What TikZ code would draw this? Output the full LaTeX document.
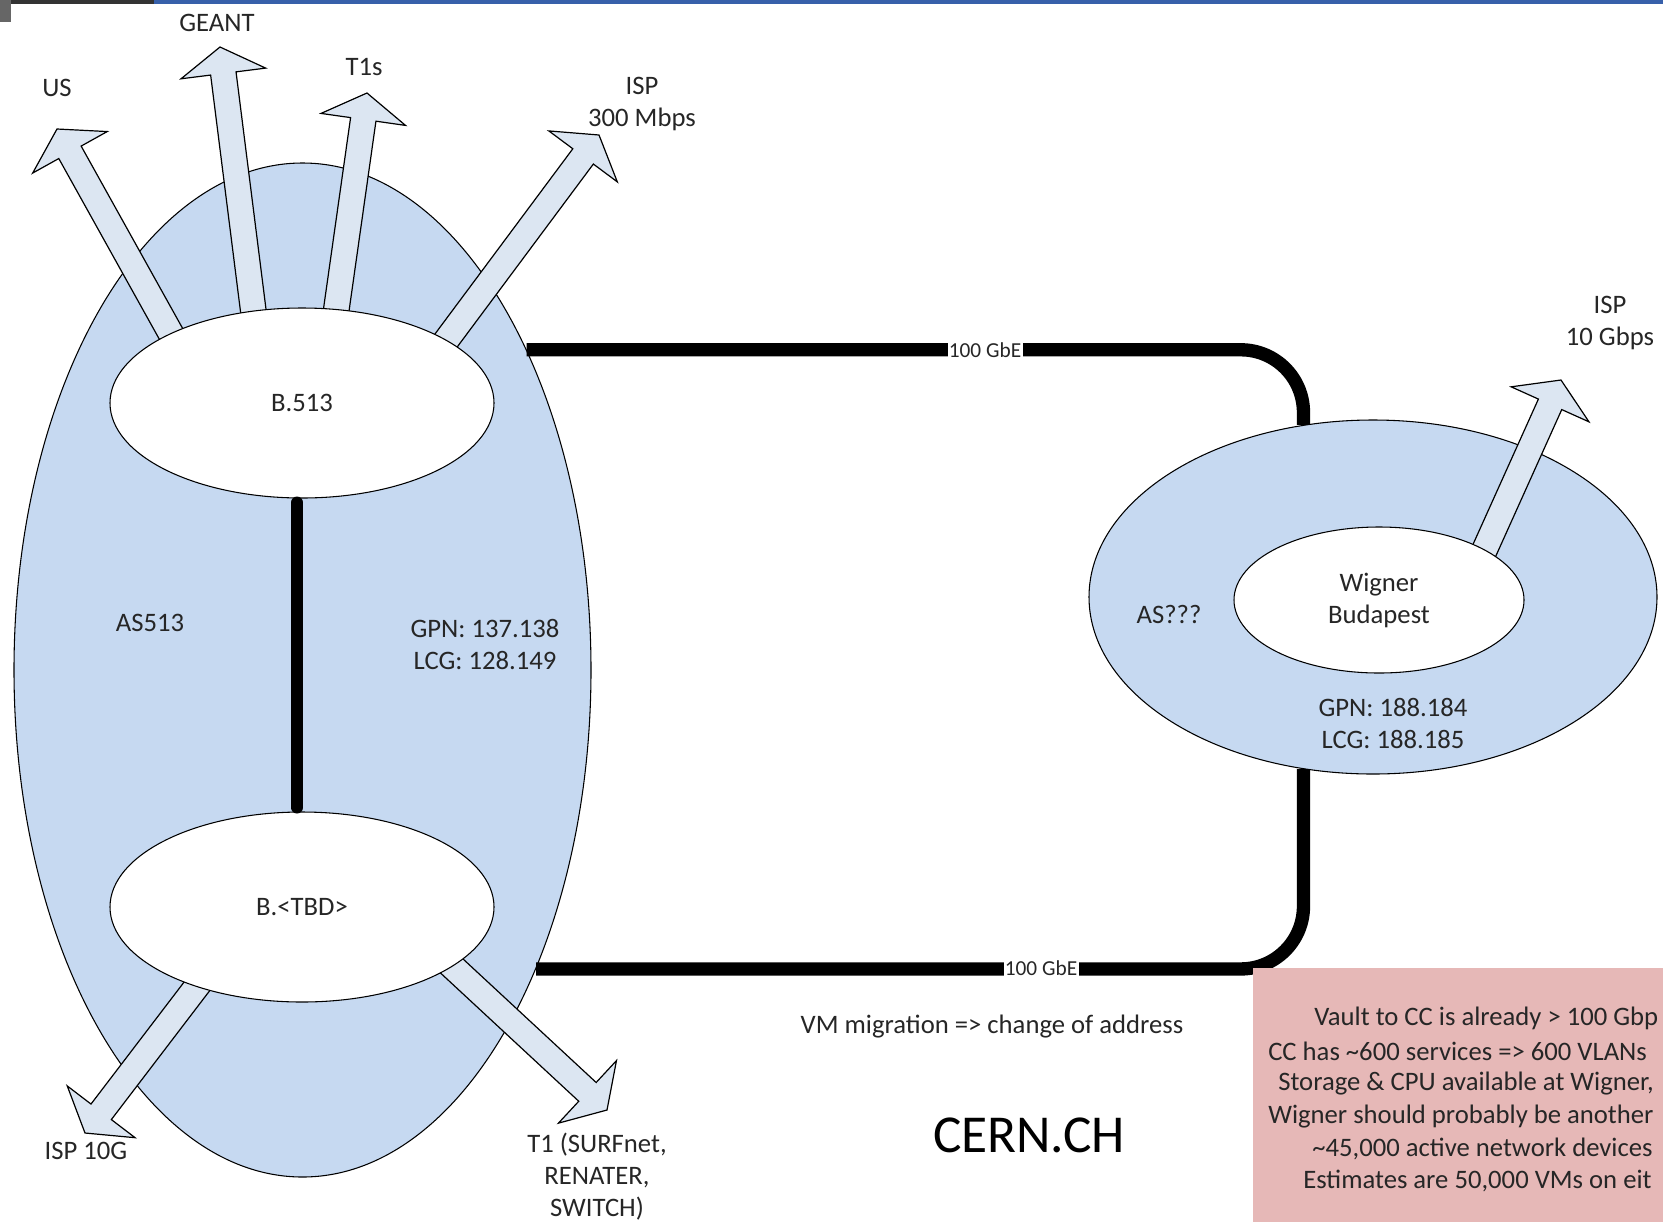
\documentclass[tikz,border=0pt]{standalone}
\usepackage{fontspec}
\setmainfont{Carlito}
\usetikzlibrary{calc,shapes.geometric}

\definecolor{asblue}{RGB}{198,217,241}
\definecolor{arrowfill}{RGB}{220,230,242}
\definecolor{notepink}{RGB}{230,184,183}
\definecolor{labelgray}{RGB}{38,38,38}
\definecolor{slideblue}{RGB}{55,96,170}

\tikzset{
  asregion/.style={ellipse, draw, line width=0.8pt, fill=asblue, inner sep=0pt},
  site/.style={ellipse, draw, line width=0.8pt, fill=white, inner sep=0pt, text=labelgray, align=center, font=\fontsize{20}{24}\selectfont},
  lbl/.style={text=labelgray, inner sep=0pt, align=center, font=\fontsize{20}{24}\selectfont},
  notetext/.style={lbl, anchor=west},
  fatarrowstyle/.style={draw, line width=0.9pt, fill=arrowfill, line join=miter},
  gbelink/.style={line width=10pt, rounded corners=47pt},
  gbelabel/.style={fill=white, inner sep=1pt, text=labelgray, font=\fontsize{16}{18}\selectfont},
}

% block arrow from #1 (base) to #2 (tip)
\newcommand{\fatarrow}[2]{%
  \coordinate (fahead) at ($(#2)!20pt!(#1)$);
  \draw[fatarrowstyle] ($(#1)!9.6pt!90:(#2)$) -- ($(fahead)!9.6pt!90:(#2)$) -- ($(fahead)!32pt!90:(#2)$) -- (#2) -- ($(fahead)!32pt!-90:(#2)$) -- ($(fahead)!9.6pt!-90:(#2)$) -- ($(#1)!9.6pt!-90:(#2)$) -- cycle;}

\begin{document}
\begin{tikzpicture}[x=0.75pt,y=0.75pt,yscale=-1,xscale=1]
        \useasboundingbox (0,0) rectangle (1663,1222);
        % slide frame
        \fill[slideblue] (154,0) rectangle (1663,4);
        \fill[black!80] (0,0) rectangle (154,4);
        \fill[black!60] (0,0) rectangle (11,22);

        %Ellipse [AS513]
        \node (as513) [asregion, minimum width=432.75pt, minimum height=760.5pt] at (302.5,670) {};
        %Ellipse [AS???]
        \node (asq) [asregion, minimum width=426pt, minimum height=265.5pt] at (1373,597) {};

        % arrow ends
        \coordinate (usBase) at (180,350);
        \coordinate (usTip) at (57,129);
        \coordinate (geantBase) at (257,340);
        \coordinate (geantTip) at (220,47);
        \coordinate (tonesBase) at (332,340);
        \coordinate (tonesTip) at (367,93);
        \coordinate (ispBase) at (439,350);
        \coordinate (ispTip) at (599,135);
        \coordinate (ispgBase) at (217,960);
        \coordinate (ispgTip) at (85,1133);
        \coordinate (toneBase) at (413,930);
        \coordinate (toneTip) at (607,1110);
        \coordinate (wigBase) at (1471,580);
        \coordinate (wigTip) at (1561,380);

        %Block Arrows
        \fatarrow{usBase}{usTip}
        \fatarrow{geantBase}{geantTip}
        \fatarrow{tonesBase}{tonesTip}
        \fatarrow{ispBase}{ispTip}
        \fatarrow{ispgBase}{ispgTip}
        \fatarrow{toneBase}{toneTip}
        \fatarrow{wigBase}{wigTip}

        %Ellipse [sites]
        \node (b513) [site, minimum width=288pt, minimum height=142.5pt] at (302,403) {B.513};
        \node (btbd) [site, minimum width=288pt, minimum height=142.5pt] at (302,907) {B.<TBD>};
        \node (wigner) [site, minimum width=217.5pt, minimum height=109.5pt] at (1379,600) {Wigner\\Budapest};

        %Straight Lines
        \draw[line width=9pt, line cap=round, shorten <=3pt, shorten >=3pt] (b513.-93) -- (btbd.93);
        \draw[gbelink] (as513.55) -| (asq.112);
        \draw[gbelink] (as513.-52) -| (asq.-112);
        \node (gbetop) [gbelabel] at (985,350) {100 GbE};
        \node (gbebot) [gbelabel] at (1041,968) {100 GbE};

        % Text Node
        \node (us) [lbl] at (57,88) {US};
        \node (geant) [lbl] at (217,23) {GEANT};
        \node (tones) [lbl] at (364,67) {T1s};
        \node (isp) [lbl] at (642,104) {ISP\\300 Mbps};
        \node (ispwig) [lbl] at (1610,323) {ISP\\10 Gbps};
        \node (as513lbl) [lbl] at (150,623) {AS513};
        \node (gpncern) [lbl] at (485,644) {GPN: 137.138\\LCG: 128.149};
        \node (asqlbl) [lbl] at (1169,614) {AS???};
        \node (gpnwig) [lbl] at (1393,723) {GPN: 188.184\\LCG: 188.185};
        \node (ispg) [lbl] at (86,1151) {ISP 10G};
        \node (tone) [lbl] at (597,1177) {T1 (SURFnet,\\RENATER,\\SWITCH)};
        \node (vm) [lbl] at (992,1027) {VM migration => change of address};
        \node (cern) [lbl, text=black, font=\fontsize{40}{48}\selectfont] at (1029,1135) {CERN.CH};

        %Rectangle [note]
        \fill[notepink] (1253,968) rectangle (1663,1222);
        % Text Node
        \node (noteA) [notetext] at (1314,1018) {Vault to CC is already > 100 Gbp};
        \node (noteB) [notetext] at (1268,1051) {CC has \textasciitilde600 services => 600 VLANs};
        \node (noteC) [notetext] at (1278,1084) {Storage \& CPU available at Wigner,};
        \node (noteD) [notetext] at (1268,1117) {Wigner should probably be another};
        \node (noteE) [notetext] at (1312,1149) {\textasciitilde45,000 active network devices};
        \node (noteF) [notetext] at (1303,1181) {Estimates are 50,000 VMs on eit};
\end{tikzpicture}
\end{document}
